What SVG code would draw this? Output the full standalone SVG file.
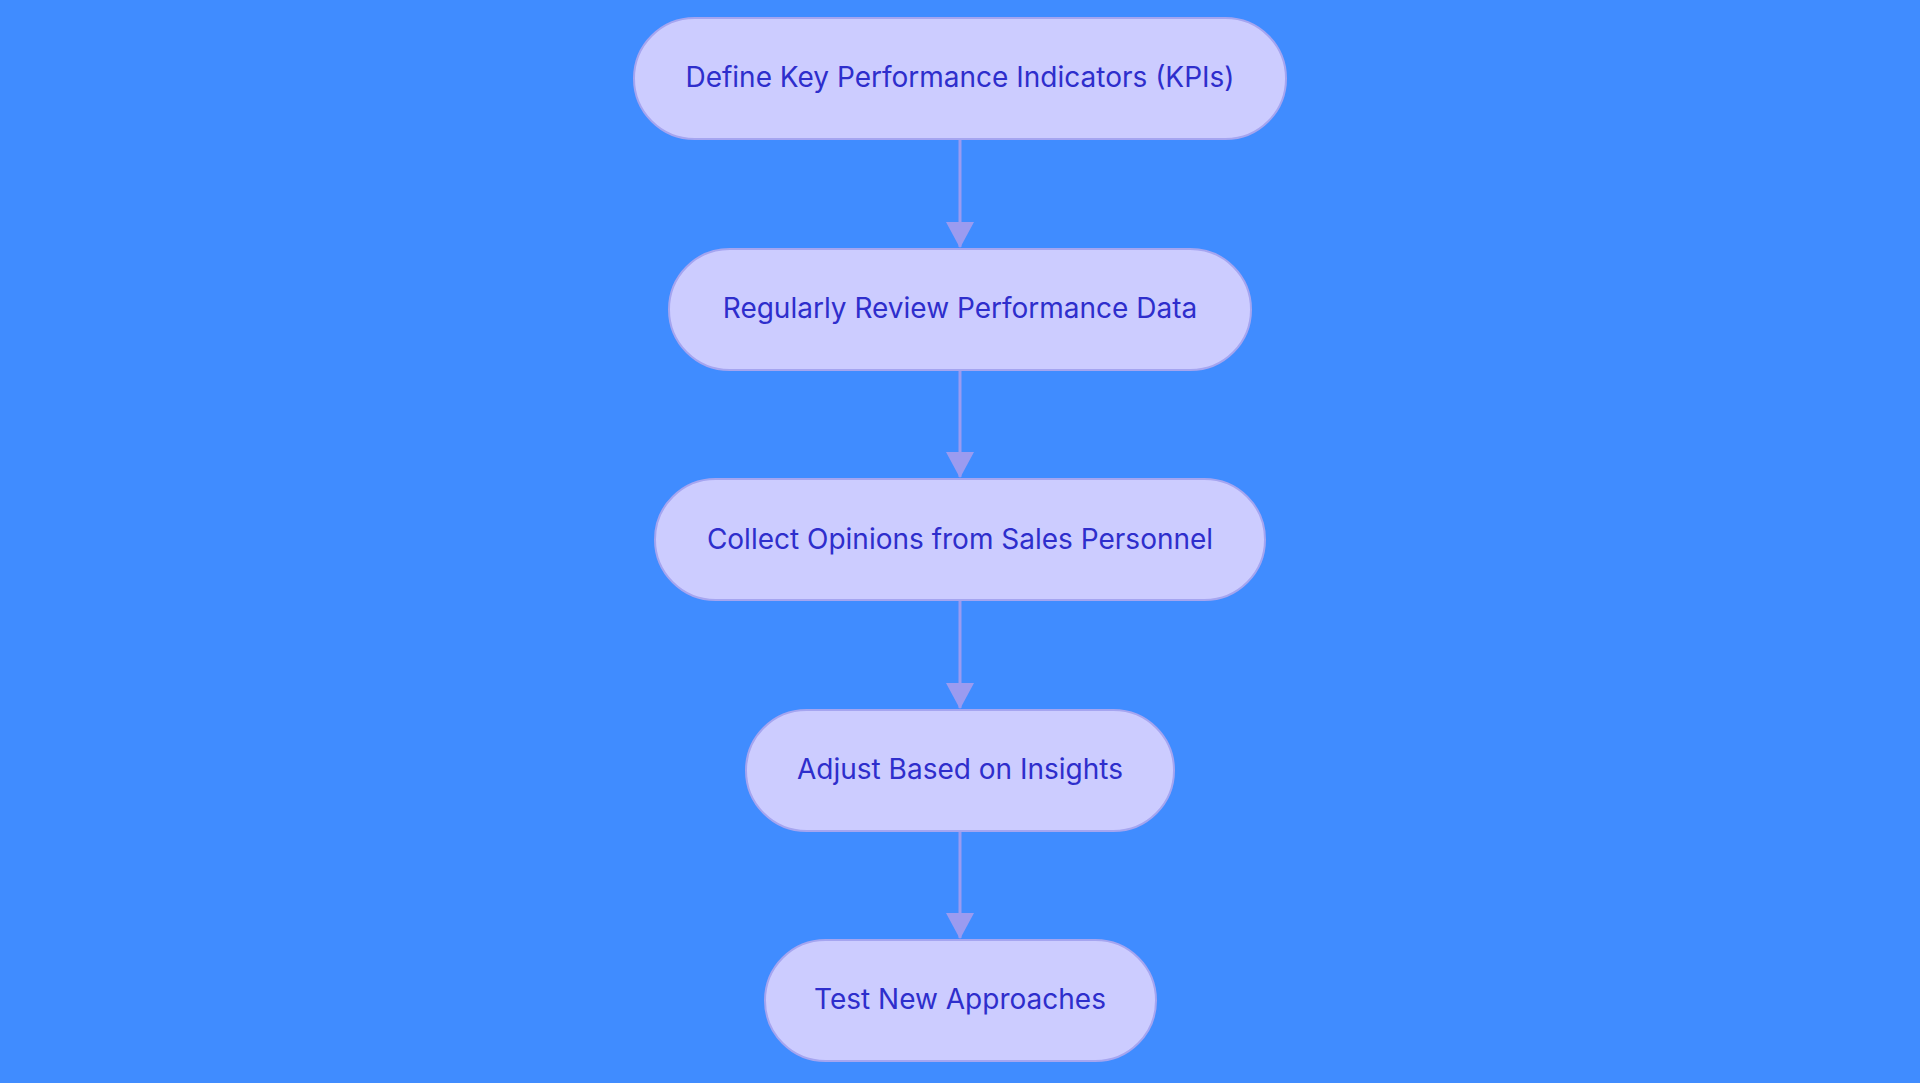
<svg xmlns="http://www.w3.org/2000/svg" width="1920" height="1083" viewBox="0 0 1920 1083">
<style>
.n rect{fill:#CCCCFF;stroke:#A5A5F0;stroke-width:2}
.n text{font-family:Inter,"Open Sans",sans-serif;font-size:28px;fill:#2E2ECC;text-anchor:middle;dominant-baseline:central}
.c line{stroke:#9B9BF0;stroke-width:3}
</style>
<defs><marker id="a" markerWidth="10" markerHeight="10" refX="9" refY="5" orient="auto" markerUnits="userSpaceOnUse" viewBox="0 0 10 10"><path d="M0,0L10,5L0,10z" fill="#9B9BF0"/></marker></defs>
<rect width="1920" height="1083" fill="#408CFF"/>
<g class="c">
<line x1="960" y1="139" x2="960" y2="247" marker-end="url(#a)" style="marker-end:none"/>
<path d="M946,222L974,222L960,248z" fill="#9B9BF0"/>
<line x1="960" y1="370" x2="960" y2="477"/>
<path d="M946,452L974,452L960,478z" fill="#9B9BF0"/>
<line x1="960" y1="601" x2="960" y2="708"/>
<path d="M946,683L974,683L960,709z" fill="#9B9BF0"/>
<line x1="960" y1="831" x2="960" y2="938"/>
<path d="M946,913L974,913L960,939z" fill="#9B9BF0"/>
</g>
<g id="n1" class="n"><rect x="634" y="18" width="652" height="121" rx="60.5"/><text x="960" y="77">Define Key Performance Indicators (KPIs)</text></g>
<g id="n2" class="n"><rect x="669" y="249" width="582" height="121" rx="60.5"/><text x="960" y="308">Regularly Review Performance Data</text></g>
<g id="n3" class="n"><rect x="655" y="479" width="610" height="121" rx="60.5"/><text x="960" y="539">Collect Opinions from Sales Personnel</text></g>
<g id="n4" class="n"><rect x="746" y="710" width="428" height="121" rx="60.5"/><text x="960" y="769">Adjust Based on Insights</text></g>
<g id="n5" class="n"><rect x="765" y="940" width="391" height="121" rx="60.5"/><text x="960" y="999">Test New Approaches</text></g>
</svg>
